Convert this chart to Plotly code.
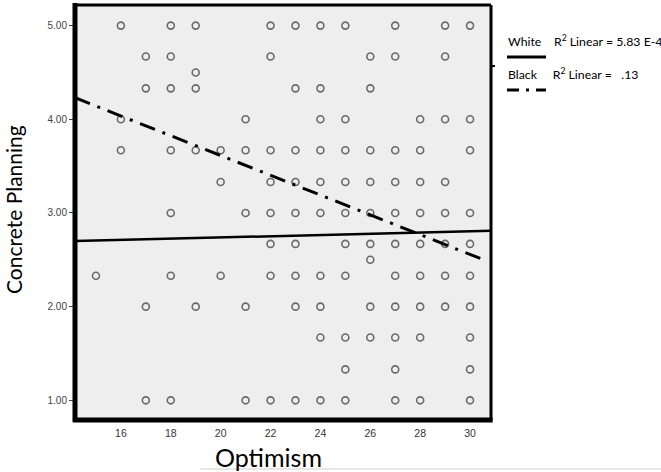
import plotly.graph_objects as go

# Scatter data: optimism values for each concrete-planning level
y_levels = [5.00, 4.67, 4.50, 4.33, 4.00, 3.67, 3.33, 3.00, 2.67, 2.50, 2.33, 2.00, 1.67, 1.33, 1.00]
x_by_level = [
    [16, 18, 19, 22, 23, 24, 25, 27, 29, 30],
    [17, 18, 22, 26, 27, 29],
    [19],
    [17, 18, 19, 23, 24, 26],
    [16, 21, 24, 25, 28, 29, 30],
    [16, 18, 19, 20, 21, 22, 23, 24, 25, 26, 27, 28, 30],
    [20, 22, 23, 24, 25, 26, 27, 28, 29],
    [18, 21, 22, 23, 24, 25, 26, 27, 28, 29, 30],
    [22, 23, 25, 26, 27, 28, 29, 30],
    [26],
    [15, 18, 20, 22, 23, 24, 25, 27, 28, 29, 30],
    [17, 19, 21, 23, 24, 26, 27, 28, 29, 30],
    [24, 25, 26, 27, 28, 30],
    [25, 27, 30],
    [17, 18, 21, 22, 23, 24, 25, 27, 28, 30],
]

# Fit lines (endpoints)
white_fit_x = [14.16, 30.84]
white_fit_y = [2.70, 2.81]
black_fit_x = [14.16, 30.45]
black_fit_y = [4.23, 2.51]

x_ticks = [16, 18, 20, 22, 24, 26, 28, 30]
y_ticks = [1, 2, 3, 4, 5]
y_tick_labels = ["1.00", "2.00", "3.00", "4.00", "5.00"]

xs, ys = [], []
for yv, xl in zip(y_levels, x_by_level):
    for xv in xl:
        xs.append(xv)
        ys.append(yv)

fig = go.Figure()
fig.add_trace(go.Scatter(
    x=xs, y=ys, mode="markers",
    marker=dict(symbol="circle-open", size=7, color="#6a6a6a", line=dict(width=1.6)),
    showlegend=False, hoverinfo="skip"))
fig.add_trace(go.Scatter(
    x=white_fit_x, y=white_fit_y, mode="lines",
    line=dict(color="black", width=2.5), showlegend=False))
fig.add_trace(go.Scatter(
    x=black_fit_x, y=black_fit_y, mode="lines",
    line=dict(color="black", width=3, dash="16px,8px,3px,8px"), showlegend=False))

L, R, T, B = 75, 170, 5, 52
W, H = 661, 472
pw, ph = W - L - R, H - T - B

def px(x):
    return (x - L) / pw

def py(y):
    return (H - B - y) / ph

shapes = [
    dict(type="line", xref="paper", yref="paper", x0=0, x1=0, y0=-0.005, y1=1.005, line=dict(color="black", width=5)),
    dict(type="line", xref="paper", yref="paper", x0=-0.005, x1=1.004, y0=0, y1=0, line=dict(color="black", width=5)),
    dict(type="line", xref="paper", yref="paper", x0=0, x1=1, y0=1, y1=1, line=dict(color="black", width=3)),
    dict(type="line", xref="paper", yref="paper", x0=1, x1=1, y0=0, y1=1, line=dict(color="black", width=3)),
    dict(type="line", xref="paper", yref="paper", x0=1, x1=px(495), y0=py(66), y1=py(66), line=dict(color="black", width=2)),
    # legend samples
    dict(type="line", xref="paper", yref="paper", x0=px(507), x1=px(546), y0=py(57), y1=py(57), line=dict(color="black", width=3)),
    dict(type="line", xref="paper", yref="paper", x0=px(507), x1=px(546), y0=py(90), y1=py(90), line=dict(color="black", width=3, dash="12px,7px,3px,7px")),
    # faint line under the chart
    dict(type="line", xref="paper", yref="paper", x0=px(200), x1=px(661), y0=py(469), y1=py(469), line=dict(color="#d0d0d0", width=1)),
]

annotations = [
    dict(text="White&nbsp;&nbsp;&nbsp;&nbsp;R<sup>2</sup> Linear = 5.83 E-4", xref="paper", yref="paper", x=px(506), y=py(41),
         xanchor="left", yanchor="middle", showarrow=False, font=dict(family="Lato", size=12.3, color="black")),
    dict(text="Black&nbsp;&nbsp;&nbsp;&nbsp;&nbsp;R<sup>2</sup> Linear = &nbsp;&nbsp;.13", xref="paper", yref="paper", x=px(506), y=py(74),
         xanchor="left", yanchor="middle", showarrow=False, font=dict(family="Lato", size=12.3, color="black")),
    dict(text="Concrete Planning", xref="paper", yref="paper", x=px(13), y=py(210), textangle=-90,
         xanchor="center", yanchor="middle", showarrow=False, font=dict(family="Lato", size=21, color="black")),
    dict(text="Optimism", xref="paper", yref="paper", x=px(268), y=py(457),
         xanchor="center", yanchor="middle", showarrow=False, font=dict(family="Lato", size=25, color="black")),
]

fig.update_layout(
    width=W, height=H,
    margin=dict(l=L, r=R, t=T, b=B),
    plot_bgcolor="#eeeeee", paper_bgcolor="white",
    xaxis=dict(range=[14.16, 30.84], tickvals=x_ticks, ticktext=[str(v) for v in x_ticks],
               showgrid=False, zeroline=False, ticks="outside", ticklen=3, tickcolor="rgba(0,0,0,0)",
               tickfont=dict(family="Arial", size=10.5, color="#333"), showline=False),
    yaxis=dict(range=[0.79, 5.22], tickvals=y_ticks, ticktext=y_tick_labels,
               showgrid=False, zeroline=False, ticks="outside", ticklen=5, tickcolor="#444", tickwidth=1,
               tickfont=dict(family="Arial", size=10, color="#444"), showline=False),
    shapes=shapes, annotations=annotations,
)

fig.write_html("out.html", config={"displayModeBar": False},
               post_script="document.body.style.margin='0';")
